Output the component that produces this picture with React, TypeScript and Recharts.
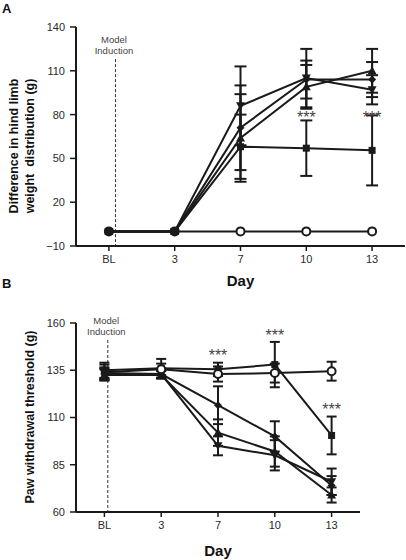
import React from "react";
import {
  LineChart,
  Line,
  XAxis,
  YAxis,
  ErrorBar,
  ReferenceLine,
  ReferenceDot,
} from "recharts";

const DAYS = ["BL", "3", "7", "10", "13"];
const DAY_IDX = [0, 1, 2, 3, 4];

// Panel A: difference in hind limb weight distribution (g)
const A_TICKS = [-10, 20, 50, 80, 110, 140];
const A_CONTROL = [0, 0, 0, 0, 0];
const A_CONTROL_ERR = [0, 0, 0, 0, 0];
const A_SQUARE = [0, 0, 58, 57, 55.5];
const A_SQUARE_ERR = [0, 0, 22, 19, 24];
const A_UP = [0, 0, 64, 99, 110];
const A_UP_ERR = [0, 0, 30, 15, 15];
const A_DOWN = [0, 0, 86, 105, 97];
const A_DOWN_ERR = [0, 0, 27, 20, 10];
const A_DIAMOND = [0, 0, 71, 104, 104];
const A_DIAMOND_ERR = [0, 0, 29, 13, 12];
const A_STARS = [3, 4];

// Panel B: paw withdrawal threshold (g)
const B_TICKS = [60, 85, 110, 135, 160];
const B_CONTROL = [134, 135.5, 133, 133.5, 134.5];
const B_CONTROL_ERR = [4, 3, 4, 5, 5];
const B_SQUARE = [135, 136, 135.5, 138, 100.5];
const B_SQUARE_ERR = [4, 5, 3.5, 12, 10];
const B_DIAMOND = [133, 133, 116.5, 100, 74];
const B_DIAMOND_ERR = [3, 2, 10, 8, 5];
const B_UP = [132.5, 132.5, 102, 92, 69];
const B_UP_ERR = [3, 2, 7, 8, 4];
const B_DOWN = [133.5, 133, 95, 90, 76];
const B_DOWN_ERR = [3, 2, 5, 8, 7];
const B_STARS = [
  { day: 2, y: 144.5 },
  { day: 3, y: 155 },
  { day: 4, y: 116 },
];

const dataA = DAY_IDX.map((i) => ({
  x: i,
  ctrl: A_CONTROL[i],
  ctrlErr: A_CONTROL_ERR[i],
  sq: A_SQUARE[i],
  sqErr: A_SQUARE_ERR[i],
  up: A_UP[i],
  upErr: A_UP_ERR[i],
  down: A_DOWN[i],
  downErr: A_DOWN_ERR[i],
  dia: A_DIAMOND[i],
  diaErr: A_DIAMOND_ERR[i],
}));

const dataB = DAY_IDX.map((i) => ({
  x: i,
  ctrl: B_CONTROL[i],
  ctrlErr: B_CONTROL_ERR[i],
  sq: B_SQUARE[i],
  sqErr: B_SQUARE_ERR[i],
  up: B_UP[i],
  upErr: B_UP_ERR[i],
  down: B_DOWN[i],
  downErr: B_DOWN_ERR[i],
  dia: B_DIAMOND[i],
  diaErr: B_DIAMOND_ERR[i],
}));

const FONT = "'Liberation Sans', Arial, sans-serif";
const INK = "#1a1a1a";

function marker(kind: string, cx: number, cy: number, key: string) {
  switch (kind) {
    case "square":
      return <rect key={key} x={cx - 3.5} y={cy - 3.5} width={7} height={7} fill={INK} />;
    case "up":
      return (
        <polygon key={key} points={`${cx},${cy - 4.5} ${cx + 4.5},${cy + 3.5} ${cx - 4.5},${cy + 3.5}`} fill={INK} />
      );
    case "down":
      return (
        <polygon key={key} points={`${cx},${cy + 4.5} ${cx + 4.5},${cy - 3.5} ${cx - 4.5},${cy - 3.5}`} fill={INK} />
      );
    case "diamond":
      return (
        <polygon key={key} points={`${cx},${cy - 4} ${cx + 4},${cy} ${cx},${cy + 4} ${cx - 4},${cy}`} fill={INK} />
      );
    case "dot":
      return <circle key={key} cx={cx} cy={cy} r={4.5} fill={INK} />;
    default:
      return <circle key={key} cx={cx} cy={cy} r={4} fill="#fff" stroke={INK} strokeWidth={2} />;
  }
}

const makeDot = (kinds: string[], name: string) => (props: any) => {
  const { cx, cy, index } = props;
  const key = `${name}-${index}`;
  if (cx == null || cy == null) return <g key={key} />;
  return marker(kinds[index] ?? kinds[kinds.length - 1], cx, cy, key);
};

const Stars = (props: any) => {
  const { viewBox } = props;
  if (!viewBox) return null;
  const cx = viewBox.x + (viewBox.width || 0) / 2;
  const cy = viewBox.y + (viewBox.height || 0) / 2;
  return (
    <text x={cx} y={cy + 8.5} textAnchor="middle" fontSize={16} fontFamily={FONT} fill="#444">
      ***
    </text>
  );
};

const Induction = (props: any) => {
  const { viewBox } = props;
  if (!viewBox) return null;
  const cx = viewBox.x + (viewBox.width || 0) / 2;
  const cy = viewBox.y + (viewBox.height || 0) / 2;
  return (
    <text textAnchor="middle" fontSize={9.5} fontFamily={FONT} fill="#444">
      <tspan x={cx - 1.5} y={cy - 16}>Model</tspan>
      <tspan x={cx - 1.5} y={cy - 5.5}>Induction</tspan>
    </text>
  );
};

const axisLine = { stroke: INK, strokeWidth: 2 };
const tickLine = { stroke: INK, strokeWidth: 1.5 };
const tickStyle = { fill: "#2a2a2a", fontSize: 11, fontFamily: FONT };

function series(kinds: { key: string; dots: string[] }[], capW: number) {
  return kinds.map((s) => (
    <Line
      key={s.key}
      dataKey={s.key}
      stroke={INK}
      strokeWidth={2}
      dot={makeDot(s.dots, s.key)}
      activeDot={false}
      isAnimationActive={false}
    >
      <ErrorBar
        dataKey={`${s.key}Err`}
        width={capW}
        stroke={INK}
        strokeWidth={2}
        direction="y"
        isAnimationActive={false}
      />
    </Line>
  ));
}

export default function App() {
  return (
    <div style={{ position: "absolute", left: 0, top: 0, width: 406, height: 560, background: "#fff" }}>
      <div style={{ position: "absolute", left: 0, top: 0 }}>
        <LineChart width={406} height={280} data={dataA} margin={{ top: 27, right: 1, bottom: 0, left: 0 }}>
          <XAxis
            type="number"
            dataKey="x"
            domain={[-0.5, 4.5]}
            ticks={DAY_IDX}
            tickFormatter={(v: number) => DAYS[v]}
            height={34}
            axisLine={axisLine}
            tickLine={tickLine}
            tickSize={5}
            tickMargin={4}
            tick={tickStyle}
          />
          <YAxis
            domain={[-10, 140]}
            ticks={A_TICKS}
            width={76}
            axisLine={axisLine}
            tickLine={tickLine}
            tickSize={6}
            tickMargin={5}
            tick={tickStyle}
            tickFormatter={(v: number) => (v < 0 ? `\u2212${-v}` : `${v}`)}
          />
          <ReferenceLine
            segment={[
              { x: 0.1, y: 118 },
              { x: 0.1, y: -10 },
            ]}
            stroke="#333"
            strokeWidth={1}
            strokeDasharray="3 2"
          />
          <ReferenceDot x={0.1} y={118} r={0} fill="none" stroke="none" label={<Induction />} />
          {series(
            [
              { key: "ctrl", dots: ["open"] },
              { key: "dia", dots: ["diamond"] },
              { key: "down", dots: ["down"] },
              { key: "up", dots: ["up"] },
              { key: "sq", dots: ["dot", "square", "square"] },
            ],
            6
          )}
          {A_STARS.map((d) => (
            <ReferenceDot key={d} x={d} y={80} r={0} fill="none" stroke="none" label={<Stars />} />
          ))}
        </LineChart>
      </div>
      <div style={{ position: "absolute", left: 0, top: 280 }}>
        <LineChart width={406} height={280} data={dataB} margin={{ top: 43, right: 46, bottom: 0, left: 0 }}>
          <XAxis
            type="number"
            dataKey="x"
            domain={[-0.5, 4.5]}
            ticks={DAY_IDX}
            tickFormatter={(v: number) => DAYS[v]}
            height={48}
            axisLine={axisLine}
            tickLine={tickLine}
            tickSize={5}
            tickMargin={4}
            tick={tickStyle}
          />
          <YAxis
            domain={[60, 160]}
            ticks={B_TICKS}
            width={76}
            axisLine={axisLine}
            tickLine={tickLine}
            tickSize={6}
            tickMargin={5}
            tick={tickStyle}
          />
          <ReferenceLine
            segment={[
              { x: 0.06, y: 151 },
              { x: 0.06, y: 60 },
            ]}
            stroke="#333"
            strokeWidth={1}
            strokeDasharray="3 2"
          />
          <ReferenceDot x={0.06} y={151} r={0} fill="none" stroke="none" label={<Induction />} />
          {series(
            [
              { key: "dia", dots: ["diamond"] },
              { key: "down", dots: ["down"] },
              { key: "up", dots: ["up"] },
              { key: "sq", dots: ["square"] },
              { key: "ctrl", dots: ["square", "open"] },
            ],
            5
          )}
          {B_STARS.map((s) => (
            <ReferenceDot key={s.day} x={s.day} y={s.y} r={0} fill="none" stroke="none" label={<Stars />} />
          ))}
        </LineChart>
      </div>
      <svg
        width={406}
        height={560}
        style={{ position: "absolute", left: 0, top: 0, pointerEvents: "none" }}
        fontFamily={FONT}
      >
        <text x={2} y={13} fontSize={13} fontWeight="bold" fill="#111">A</text>
        <text x={2} y={288} fontSize={13} fontWeight="bold" fill="#111">B</text>
        <text
          transform="translate(14,146) rotate(-90)"
          textAnchor="middle"
          dominantBaseline="central"
          fontSize={12.5}
          fontWeight="bold"
          fill="#111"
        >
          Difference in hind limb
        </text>
        <text
          transform="translate(30,146) rotate(-90)"
          textAnchor="middle"
          dominantBaseline="central"
          fontSize={12.5}
          fontWeight="bold"
          fill="#111"
          style={{ whiteSpace: "pre" }}
        >
          weight  distribution (g)
        </text>
        <text x={240.5} y={280} textAnchor="middle" dominantBaseline="central" fontSize={15} fontWeight="bold" fill="#111">
          Day
        </text>
        <text
          transform="translate(30,417) rotate(-90)"
          textAnchor="middle"
          dominantBaseline="central"
          fontSize={12.5}
          fontWeight="bold"
          fill="#111"
        >
          Paw withdrawal threshold (g)
        </text>
        <text x={218} y={550} textAnchor="middle" dominantBaseline="central" fontSize={15} fontWeight="bold" fill="#111">
          Day
        </text>
      </svg>
    </div>
  );
}
